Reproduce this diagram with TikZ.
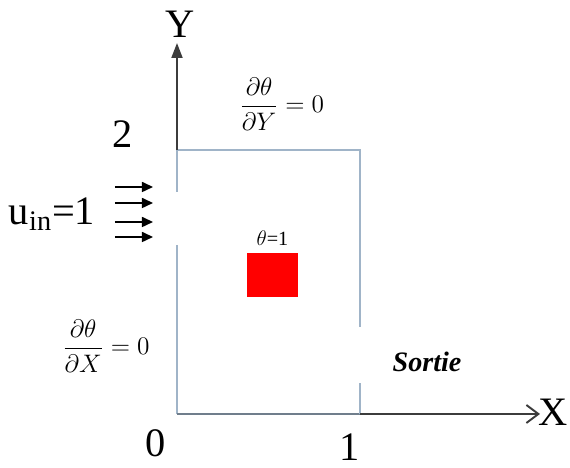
\documentclass[tikz,border=0pt]{standalone}
\usepackage{amsmath}
\usepackage{fontspec}
\setmainfont{Liberation Serif}
\usepackage{xcolor}
\usepackage{tikz}
\usetikzlibrary{positioning, arrows.meta, calc}

\definecolor{wallc}{RGB}{160,180,200}
\definecolor{axisc}{RGB}{60,60,60}

\begin{document}
\begin{tikzpicture}[
          wall/.style={draw=wallc, line width=1pt},
          ax/.style={draw=axisc, line width=1.1pt},
          inarr/.style={-{Triangle[length=2.2mm, width=2mm]}, line width=0.9pt, black},
          lbl/.style={font=\fontsize{23}{26}\selectfont},
          bc/.style={font=\fontsize{13.5}{16}\selectfont},
        ]
        \useasboundingbox (-3.54,-1.08) rectangle (7.86,8.28);
        \coordinate (O) at (0,0);
        \coordinate (TL) at (0,5.28);
        \coordinate (BR) at (3.66,0);
        \coordinate (Ytip) at (0,7.42);
        \coordinate (Xtip) at (7.26,0);
        % walls of the cavity, left and right ones open
        \draw[wall] (0,3.38) -- (O);
        \draw[wall, draw=wallc!70!black, line width=1.4pt] (O) -- (BR);
        \draw[wall] (BR) -- (3.66,0.62);
        \draw[wall] (3.66,1.74) -- (3.66,5.28) -- (TL) -- (0,4.44);
        % axes
        \draw[ax, -{Triangle[length=3mm, width=2.2mm]}] (TL) -- (Ytip);
        \draw[ax, -{Straight Barb[length=2.4mm, width=3.6mm]}] (BR) -- (Xtip);
        \node[lbl] (ylab) at (0.06,7.8) {Y};
        \node[lbl] (xlab) at (7.52,0.04) {X};
        \node[lbl] (zero) at (-0.42,-0.58) {0};
        \node[lbl] (one) at (3.46,-0.66) {1};
        \node[lbl] (two) at (-1.08,5.6) {2};
        % inlet
        \foreach \y [count=\i] in {4.54,4.22,3.84,3.54} {
          \coordinate (in\i) at (-1.24,\y);
          \coordinate (out\i) at (-0.48,\y);
          \draw[inarr] (in\i) -- (out\i);
        }
        \node[lbl] (uin) at (-2.5,4.0) {u\textsubscript{in}=1};
        % heated block
        \node[draw=none, fill=red, minimum width=1.02cm, minimum height=0.88cm, inner sep=0pt] (blk) at (1.91,2.78) {};
        \node[font=\fontsize{11.5}{13}\selectfont, above=0.02cm of blk] (tlab) {$\theta$=1};
        % boundary conditions
        \node[bc] (bctop) at (2.1,6.2) {$\displaystyle\frac{\partial\theta}{\partial Y}=0$};
        \node[bc] (bcleft) at (-1.42,1.36) {$\displaystyle\frac{\partial\theta}{\partial X}=0$};
        \node[font=\fontsize{16}{18}\selectfont\bfseries\itshape] (out) at (5.0,1.04) {Sortie};
        \end{tikzpicture}
\end{document}
